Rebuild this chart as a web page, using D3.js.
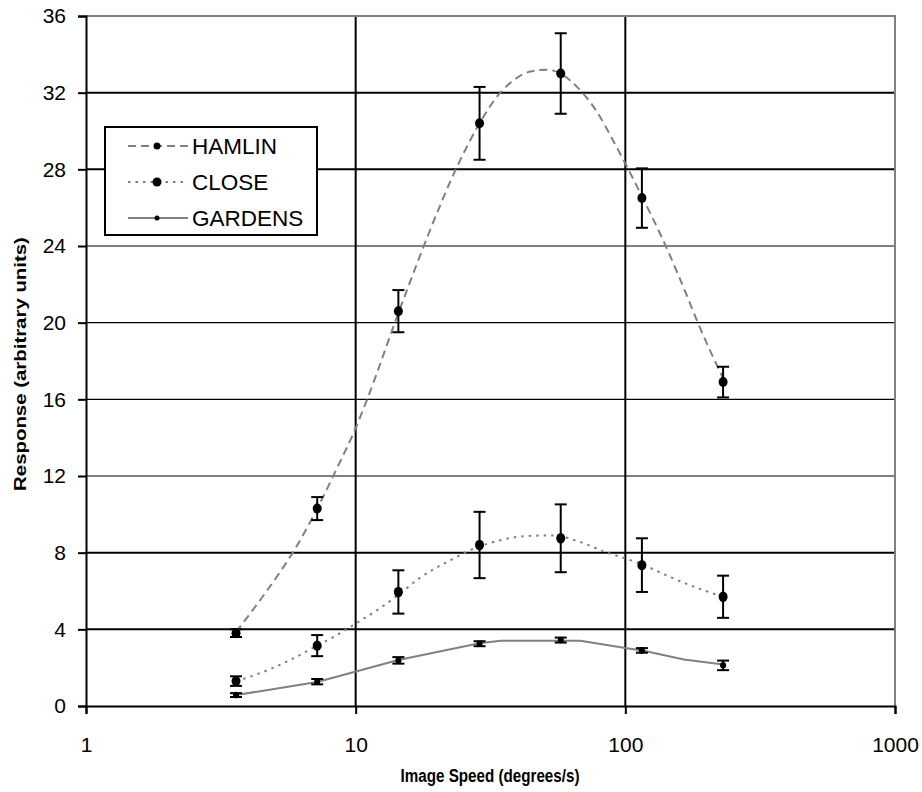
<!DOCTYPE html>
<html>
<head>
<meta charset="utf-8">
<script src="https://cdn.jsdelivr.net/npm/d3@7"></script>
<style>
  body { margin: 0; background: #fff; }
  text { font-family: "Liberation Sans", Arial, sans-serif; fill: #000; }
</style>
</head>
<body>
<svg id="chart" width="922" height="792"></svg>
<script>
// measured points (image speed, degrees/s)
var speeds = [3.6, 7.2, 14.4, 28.8, 57.6, 115.2, 230.4];
var hamlinMean = [3.8, 10.3, 20.6, 30.4, 33.0, 26.5, 16.9];
var hamlinErr = [0.2, 0.6, 1.1, 1.9, 2.1, 1.55, 0.8];
var closeMean = [1.3, 3.15, 5.95, 8.4, 8.75, 7.35, 5.7];
var closeErr = [0.25, 0.55, 1.13, 1.73, 1.77, 1.4, 1.1];
var gardensMean = [0.57, 1.27, 2.38, 3.25, 3.44, 2.9, 2.12];
var gardensErr = [0.1, 0.14, 0.17, 0.13, 0.13, 0.12, 0.25];

// fitted curves
var hamlinFitX = [3.6, 3.95, 4.68, 5.25, 5.96, 7.2, 8.52, 10, 11.1, 14.4, 15.5, 18.6, 23.7, 28.8, 33.9, 37.4, 44.4, 51.2, 59, 66.2, 78.5, 89.3, 100, 117, 135, 156, 167, 184.5, 206.8, 230.4];
var hamlinFitY = [3.86, 4.6, 6.0, 7.0, 8.2, 10.3, 12.4, 14.5, 16.1, 20.5, 21.7, 24.6, 28.1, 30.4, 31.9, 32.5, 33.1, 33.2, 32.9, 32.3, 31.0, 29.6, 28.3, 26.4, 24.6, 22.6, 21.6, 20.1, 18.5, 17.1];
var closeFitX = [3.6, 4.3, 5.71, 7.2, 8.76, 10, 12.3, 14.4, 17.35, 22.4, 27.3, 34.4, 43.2, 54.1, 68.1, 85.5, 100, 115, 142.8, 189.8, 230.4];
var closeFitY = [1.3, 1.65, 2.4, 3.15, 3.8, 4.3, 5.1, 5.8, 6.7, 7.6, 8.2, 8.65, 8.87, 8.9, 8.55, 8.0, 7.7, 7.4, 6.8, 6.1, 5.7];
var gardensFitX = [3.6, 7.2, 14.4, 28.8, 34.4, 68.1, 100, 117, 165, 230.4];
var gardensFitY = [0.57, 1.25, 2.4, 3.27, 3.41, 3.41, 3.03, 2.88, 2.43, 2.17];

var xTicks = [1, 10, 100, 1000];
var yTicks = [0, 4, 8, 12, 16, 20, 24, 28, 32, 36];

var svg = d3.select('#chart');

var x = d3.scaleLog().domain([1, 1000]).range([86, 895]);
var y = d3.scaleLinear().domain([0, 36]).range([706, 16]);

// gridlines (the middle ones render lighter in the original)
svg.append('g').selectAll('line')
  .data(yTicks.filter(d => d > 0 && d < 36))
  .enter().append('line')
    .attr('x1', x(1)).attr('x2', x(1000))
    .attr('y1', d => y(d)).attr('y2', d => y(d))
    .attr('stroke', '#000')
    .attr('stroke-width', d => (d >= 12 && d <= 24) ? 1.2 : 2);

svg.append('g').selectAll('line')
  .data([10, 100])
  .enter().append('line')
    .attr('x1', d => x(d)).attr('x2', d => x(d))
    .attr('y1', y(0)).attr('y2', y(36))
    .attr('stroke', '#000')
    .attr('stroke-width', 2);

// plot border (top and right in grey)
svg.append('path')
  .attr('d', 'M' + x(1) + ',' + y(36) + 'H' + x(1000) + 'V' + y(0))
  .attr('fill', 'none')
  .attr('stroke', '#808080')
  .attr('stroke-width', 2);

// axes
var yAxis = d3.axisLeft(y).tickValues(yTicks).tickSize(8).tickPadding(12).tickFormat(d3.format('d'));
var xAxis = d3.axisBottom(x).tickValues(xTicks).tickSize(8).tickPadding(23).tickFormat(d3.format('d'));

var gy = svg.append('g').attr('transform', 'translate(' + x(1) + ',0)').call(yAxis);
var gx = svg.append('g').attr('transform', 'translate(0,' + y(0) + ')').call(xAxis);

[gx, gy].forEach(g => {
  g.attr('font-size', 21).attr('font-family', '"Liberation Sans", Arial, sans-serif');
  g.select('.domain').attr('stroke', '#000').attr('stroke-width', 2);
  g.selectAll('.tick line').attr('stroke', '#000').attr('stroke-width', 2);
  g.selectAll('.tick text').style('font-size', '21px');
});

// axis titles (original is stretched vertically)
svg.append('text')
  .attr('transform', 'translate(490,782) scale(0.8,1)')
  .attr('text-anchor', 'middle')
  .style('font-size', '19px').attr('font-weight', 'bold')
  .text('Image Speed (degrees/s)');

svg.append('text')
  .attr('transform', 'translate(26,364) rotate(-90) scale(1.2,1)')
  .attr('text-anchor', 'middle')
  .style('font-size', '17px').attr('font-weight', 'bold')
  .text('Response (arbitrary units)');

// fitted lines
var line = d3.line()
  .x(d => x(d[0]))
  .y(d => y(d[1]));

var fits = [
  { xs: hamlinFitX, ys: hamlinFitY, dash: '8,5', curve: d3.curveMonotoneX },
  { xs: closeFitX, ys: closeFitY, dash: '2.5,5', curve: d3.curveMonotoneX },
  { xs: gardensFitX, ys: gardensFitY, dash: null, curve: d3.curveLinear }
];

svg.append('g').selectAll('path')
  .data(fits)
  .enter().append('path')
    .attr('d', d => line.curve(d.curve)(d3.zip(d.xs, d.ys)))
    .attr('fill', 'none')
    .attr('stroke', '#808080')
    .attr('stroke-width', 2)
    .attr('stroke-dasharray', d => d.dash);

// error bars and points
var sets = [
  { mean: hamlinMean, err: hamlinErr, rx: 4.5, ry: 5, cap: 6 },
  { mean: closeMean, err: closeErr, rx: 4.5, ry: 5.2, cap: 6 },
  { mean: gardensMean, err: gardensErr, rx: 3, ry: 3.3, cap: 6 }
];

sets.forEach(s => {
  var pts = d3.zip(speeds, s.mean, s.err);
  var g = svg.append('g');
  var bars = g.selectAll('g').data(pts).enter().append('g');
  bars.append('line')
    .attr('x1', d => x(d[0])).attr('x2', d => x(d[0]))
    .attr('y1', d => y(d[1] - d[2])).attr('y2', d => y(d[1] + d[2]))
    .attr('stroke', '#000').attr('stroke-width', 2);
  bars.append('line')
    .attr('x1', d => x(d[0]) - s.cap).attr('x2', d => x(d[0]) + s.cap)
    .attr('y1', d => y(d[1] + d[2])).attr('y2', d => y(d[1] + d[2]))
    .attr('stroke', '#000').attr('stroke-width', 2);
  bars.append('line')
    .attr('x1', d => x(d[0]) - s.cap).attr('x2', d => x(d[0]) + s.cap)
    .attr('y1', d => y(d[1] - d[2])).attr('y2', d => y(d[1] - d[2]))
    .attr('stroke', '#000').attr('stroke-width', 2);
  bars.append('ellipse')
    .attr('cx', d => x(d[0])).attr('cy', d => y(d[1]))
    .attr('rx', s.rx).attr('ry', s.ry)
    .attr('fill', '#000');
});

// legend
var legendNames = ['HAMLIN', 'CLOSE', 'GARDENS'];
var legendDash = ['8,5', '2.5,5', null];
var legendDot = [3.5, 4.5, 2.5];

var legend = svg.append('g');
legend.append('rect')
  .attr('x', 105).attr('y', 127)
  .attr('width', 212).attr('height', 108)
  .attr('fill', '#fff')
  .attr('stroke', '#000').attr('stroke-width', 2);

var items = legend.selectAll('g.item')
  .data(legendNames)
  .enter().append('g')
    .attr('class', 'item')
    .attr('transform', (d, i) => 'translate(0,' + (146 + i * 36) + ')');

items.append('line')
  .attr('x1', 128).attr('x2', 188)
  .attr('stroke', '#808080').attr('stroke-width', 2)
  .attr('stroke-dasharray', (d, i) => legendDash[i]);
items.append('circle')
  .attr('cx', 157).attr('r', (d, i) => legendDot[i])
  .attr('fill', '#000');
items.append('text')
  .attr('x', 192).attr('dy', '0.36em')
  .style('font-size', '22.5px')
  .text(d => d);
</script>
</body>
</html>
